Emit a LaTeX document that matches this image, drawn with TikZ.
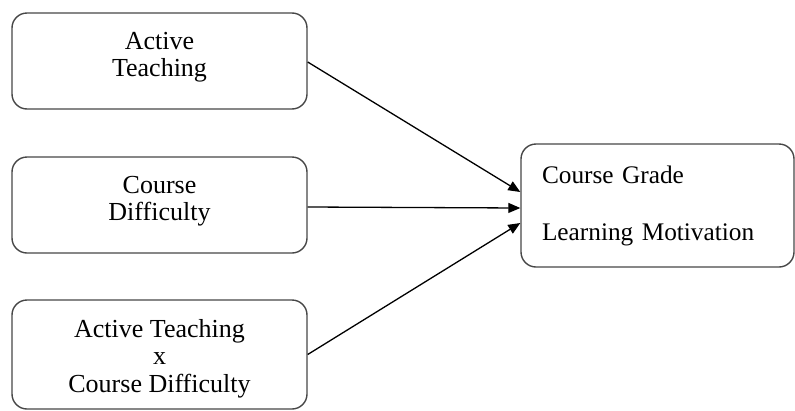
\documentclass[tikz,border=0pt]{standalone}
\usepackage{fontspec}
\setmainfont{Liberation Serif}
\usetikzlibrary{arrows.meta}
\newcommand{\lowpad}{\rule[-13pt]{0pt}{0pt}}
\newcommand{\highpad}{\rule{0pt}{26pt}}
\begin{document}
\begin{tikzpicture}[x=1pt,y=-1pt,
  box/.style={draw=black!72, line width=1.4pt, rounded corners=15pt, align=center,
    inner sep=0pt, font=\fontsize{26}{27.5}\selectfont},
  inbox/.style={box, minimum width=295pt, minimum height=96pt},
  link/.style={line width=1.3pt, black, -{Triangle[length=12pt,width=10pt]}}]
\useasboundingbox (0,0) rectangle (795,410);
\node[inbox] (at) at (159.5,61) {Active\\Teaching\lowpad};
\node[inbox] (cd) at (159.5,205) {Course\\Difficulty\lowpad};
\node[inbox, minimum height=109pt] (ix) at (159.5,354.5) {\highpad Active Teaching\\x\\Course Difficulty};
\node[box, align=left, minimum width=273pt, minimum height=123pt, text width=231pt,
  font=\fontsize{25.3}{27.5}\selectfont]
  (out) at (657.5,205.5) {Course Grade\\[29.5pt]Learning Motivation};
\draw[link] ([yshift=-1pt]at.east) -- ([yshift=13.5pt]out.west);
\draw[link] ([yshift=-2pt]cd.east) -- ([yshift=-2.5pt]out.west);
\draw[link] (ix.east) -- ([yshift=-17.5pt]out.west);
\end{tikzpicture}
\end{document}
